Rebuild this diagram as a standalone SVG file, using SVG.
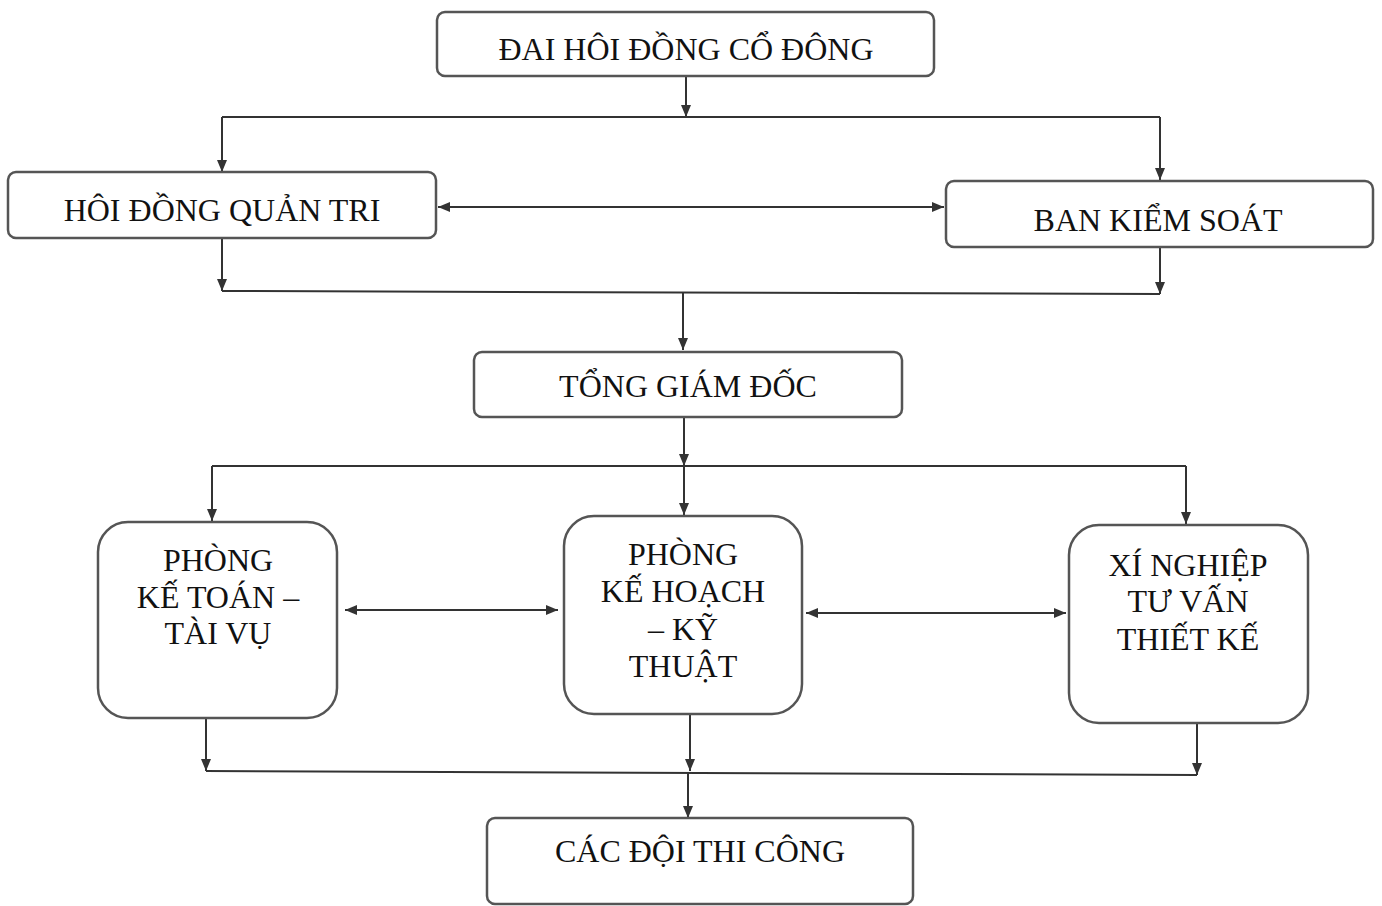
<svg xmlns="http://www.w3.org/2000/svg" width="1382" height="906" viewBox="0 0 1382 906">
<defs>
<marker id="ah" viewBox="0 0 12 10" refX="12" refY="5" markerWidth="12" markerHeight="10" markerUnits="userSpaceOnUse" orient="auto-start-reverse">
<path d="M0,0 L12,5 L0,10 z" fill="#333"/>
</marker>
<style>
.box{fill:#fff;stroke:#555;stroke-width:2.5}
.t{font-family:"Liberation Serif","Times New Roman",serif;font-size:32px;fill:#111;text-anchor:middle}
.c{fill:none;stroke:#333;stroke-width:2}
.a{fill:none;stroke:#333;stroke-width:2;marker-end:url(#ah)}
.d{fill:none;stroke:#333;stroke-width:2;marker-start:url(#ah);marker-end:url(#ah)}
</style>
</defs>
<rect width="1382" height="906" fill="#fff"/>
<g id="connectors">
<path class="a" d="M686,76 V117"/>
<path class="c" d="M222,117 H1160"/>
<path class="a" d="M222,117 V172"/>
<path class="a" d="M1160,117 V180"/>
<path class="d" d="M438,207 H944"/>
<path class="a" d="M222,238 V291"/>
<path class="a" d="M1160,247 V294"/>
<path class="c" d="M222,291 L1160,294"/>
<path class="a" d="M683,292 V350"/>
<path class="a" d="M684,418 V466"/>
<path class="c" d="M212,466 H1186"/>
<path class="a" d="M212,466 V521"/>
<path class="a" d="M684,466 V515"/>
<path class="a" d="M1186,466 V524"/>
<path class="d" d="M345,610 H558"/>
<path class="d" d="M806,613 H1066"/>
<path class="a" d="M206,719 V771"/>
<path class="a" d="M690,715 V771"/>
<path class="a" d="M1197,724 V775"/>
<path class="c" d="M206,771 L1197,775"/>
<path class="a" d="M688,772 V818"/>
</g>
<g id="n1"><rect class="box" x="437" y="12" width="497" height="64" rx="8"/><text class="t" x="686" y="60">ĐAI HÔI ĐỒNG CỔ ĐÔNG</text></g>
<g id="n2"><rect class="box" x="8" y="172" width="428" height="66" rx="8"/><text class="t" x="222" y="221">HÔI ĐỒNG QUẢN TRI</text></g>
<g id="n3"><rect class="box" x="946" y="181" width="427" height="66" rx="8"/><text class="t" x="1158" y="231">BAN KIỂM SOÁT</text></g>
<g id="n4"><rect class="box" x="474" y="352" width="428" height="65" rx="8"/><text class="t" x="688" y="397">TỔNG GIÁM ĐỐC</text></g>
<g id="n5"><rect class="box" x="98" y="522" width="239" height="196" rx="30"/><text class="t" x="218" y="571">PHÒNG</text><text class="t" x="218" y="608">KẾ TOÁN –</text><text class="t" x="218" y="644">TÀI VỤ</text></g>
<g id="n6"><rect class="box" x="564" y="516" width="238" height="198" rx="30"/><text class="t" x="683" y="565">PHÒNG</text><text class="t" x="683" y="602">KẾ HOẠCH</text><text class="t" x="683" y="640">– KỸ</text><text class="t" x="683" y="677">THUẬT</text></g>
<g id="n7"><rect class="box" x="1069" y="525" width="239" height="198" rx="30"/><text class="t" x="1188" y="576">XÍ NGHIỆP</text><text class="t" x="1188" y="612">TƯ VẤN</text><text class="t" x="1188" y="650">THIẾT KẾ</text></g>
<g id="n8"><rect class="box" x="487" y="818" width="426" height="86" rx="8"/><text class="t" x="700" y="862">CÁC ĐỘI THI CÔNG</text></g>
</svg>
